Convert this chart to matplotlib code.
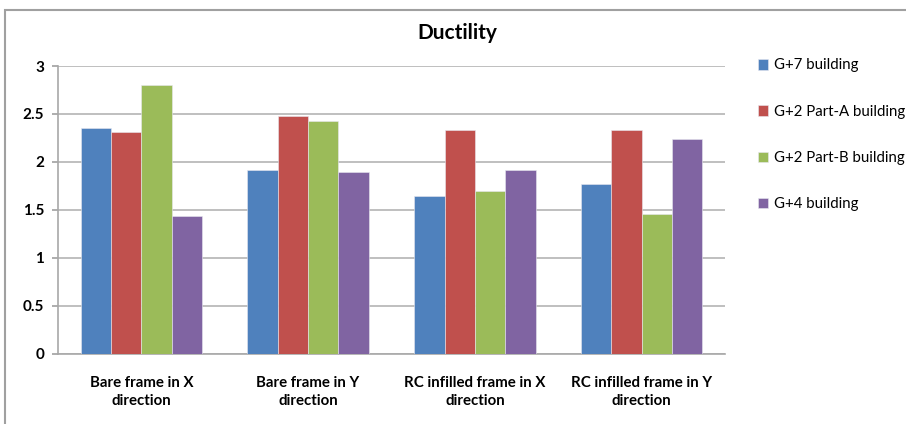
import matplotlib.pyplot as plt
import numpy as np
from matplotlib.patches import Rectangle

# data
categories = ["Bare frame in X\ndirection", "Bare frame in Y\ndirection",
              "RC infilled frame in X\ndirection", "RC infilled frame in Y\ndirection"]
series_names = ["G+7 building", "G+2 Part-A building", "G+2 Part-B building", "G+4 building"]
g7 = [2.35, 1.92, 1.64, 1.77]
g2a = [2.31, 2.48, 2.33, 2.33]
g2b = [2.80, 2.43, 1.70, 1.46]
g4 = [1.43, 1.89, 1.92, 2.24]
yticks = [0, 0.5, 1, 1.5, 2, 2.5, 3]

colors = ["#4F81BD", "#C0504D", "#9BBB59", "#8064A2"]
plt.rcParams['font.family'] = ['Lato', 'DejaVu Sans']

fig = plt.figure(figsize=(9.06, 4.24), dpi=100)
W, H = 906, 424
# outer chart frame (only top and left visible)
fig.patches.append(Rectangle((5 / W, -0.1), 1.2, (424 - 10) / H + 0.1,
                             transform=fig.transFigure, fill=False,
                             edgecolor="#a0a0a0", linewidth=1.5))

ax = fig.add_axes([58 / W, 1 - 353.5 / H, (725 - 58) / W, (353.5 - 66) / H])

x = np.arange(len(categories))
bw = 1 / 5.5
all_series = [g7, g2a, g2b, g4]
for i, (vals, name, c) in enumerate(zip(all_series, series_names, colors)):
    ax.bar(x + (i - 1.5) * bw, vals, bw, color=c, label=name,
           edgecolor="#e8e8f0", linewidth=0.4, zorder=3)

ax.set_xlim(-0.5, len(categories) - 0.5)
ax.set_ylim(0, 3)
ax.set_yticks(yticks)
ax.set_yticklabels([f"{t:g}" for t in yticks], fontsize=11, fontweight="bold")
ax.yaxis.grid(True, color="#b4b4b4", linewidth=1.2, zorder=0)
ax.set_xticks(x)
ax.set_xticklabels(categories, fontsize=10.8, fontweight="bold", linespacing=1.35)
ax.tick_params(axis="x", length=0, pad=16)
ax.tick_params(axis="y", length=4, color="#a0a0a0", width=1.2, pad=6)
for s in ["top", "right"]:
    ax.spines[s].set_visible(False)
for s in ["left", "bottom"]:
    ax.spines[s].set_color("#a8a8a8")
    ax.spines[s].set_linewidth(1.2)

fig.text(457 / W, 1 - 33 / H, "Ductility", fontsize=15, fontweight="bold",
         ha="center", va="center")

ax.legend(loc="upper left", bbox_to_anchor=(744 / W, 1 - 45 / H),
          bbox_transform=fig.transFigure, frameon=False, fontsize=10.8,
          handlelength=0.7, handleheight=0.7, handletextpad=0.4,
          labelspacing=2.15)

fig.savefig("out.png", dpi=100)
